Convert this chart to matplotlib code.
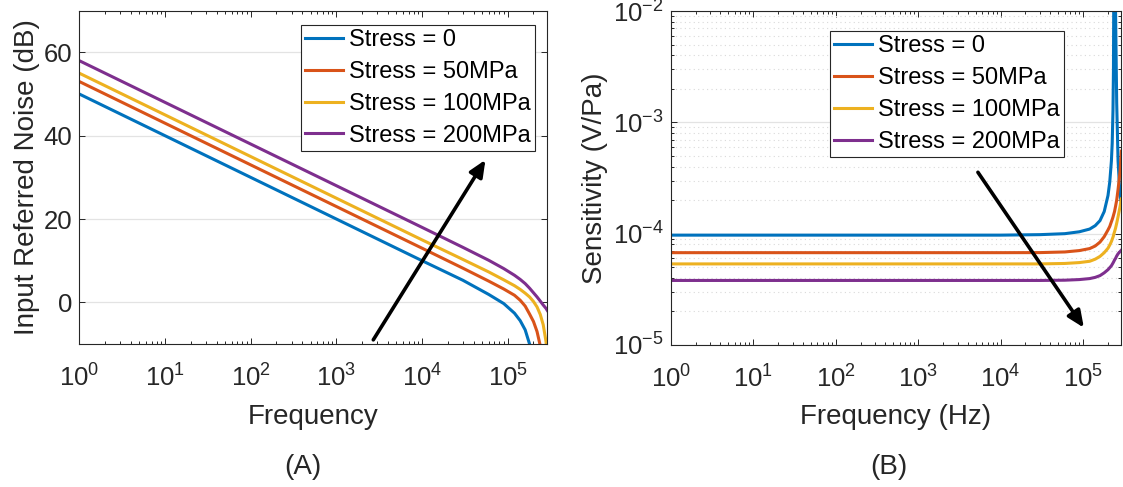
import numpy as np
import matplotlib
matplotlib.use('Agg')
import matplotlib.pyplot as plt
from matplotlib.ticker import LogLocator, NullFormatter, FixedLocator, NullLocator

plt.rcParams['font.family'] = ['Liberation Sans', 'DejaVu Sans']
plt.rcParams['mathtext.fontset'] = 'custom'
plt.rcParams['mathtext.rm'] = 'Liberation Sans'
plt.rcParams['mathtext.it'] = 'Liberation Sans:italic'
plt.rcParams['mathtext.bf'] = 'Liberation Sans:bold'

nan = np.nan

# ---------------- data ----------------
labels = ['Stress = 0', 'Stress = 50MPa', 'Stress = 100MPa', 'Stress = 200MPa']
colors = ['#0072BD', '#D95319', '#EDB120', '#7E2F8E']

# (A) input referred noise (dB)
freq_noise = [1, 10, 100, 1e3, 1e4, 3e4, 6e4, 9e4, 1.2e5, 1.4e5, 1.6e5,
              1.8e5, 2.0e5, 2.2e5, 2.4e5, 2.6e5, 2.8e5, 2.9e5]
noise_0 = [50, 40, 30, 20, 10, 5.3, 1.9, -0.3, -2.6, -4.4, -6.6,
           -10.0, -14.5, nan, nan, nan, nan, nan]
noise_50 = [53, 43, 33, 23, 13, 8.2, 5.1, 3.2, 1.7, 0.5, -0.9,
            -2.8, -4.6, -7.0, -10.4, -16.0, nan, nan]
noise_100 = [55, 45, 35, 25, 15, 10.3, 7.3, 5.4, 4.0, 3.1, 2.2,
             1.3, 0.2, -1.1, -2.9, -5.4, -9.4, -12.5]
noise_200 = [58, 48, 38, 28, 18, 13.2, 10.1, 8.1, 6.5, 5.5, 4.5,
             3.4, 2.3, 1.3, 0.3, -0.65, -1.45, -1.95]

# (B) sensitivity (V/Pa)
freq_sens = [1, 1e3, 1e4, 3e4, 6e4, 9e4, 1.2e5, 1.4e5, 1.6e5, 1.8e5, 2.0e5,
             2.1e5, 2.2e5, 2.25e5, 2.3e5, 2.33e5, 2.36e5, 2.4e5, 2.47e5,
             2.55e5, 2.65e5, 2.8e5, 2.9e5]
sens_0 = [9.7e-5, 9.7e-5, 9.7e-5, 9.8e-5, 1.0e-4, 1.04e-4, 1.1e-4, 1.18e-4,
          1.31e-4, 1.58e-4, 2.2e-4, 2.9e-4, 4.5e-4, 6.5e-4, 1.3e-3, 3e-3,
          3e-2, 3e-2, 1e-2, 1.5e-3, 4.5e-4, 2.2e-4, 1.9e-4]
sens_50 = [6.75e-5, 6.75e-5, 6.75e-5, 6.76e-5, 6.85e-5, 7.05e-5, 7.35e-5,
           7.75e-5, 8.4e-5, 9.4e-5, 1.08e-4, 1.16e-4, 1.28e-4, 1.34e-4,
           1.41e-4, 1.46e-4, 1.51e-4, 1.58e-4, 1.76e-4, 2.0e-4, 2.5e-4,
           3.6e-4, 5.5e-4]
sens_100 = [5.35e-5, 5.35e-5, 5.35e-5, 5.35e-5, 5.4e-5, 5.5e-5, 5.65e-5,
            5.9e-5, 6.25e-5, 6.75e-5, 7.4e-5, 7.9e-5, 8.5e-5, 8.9e-5,
            9.3e-5, 9.6e-5, 1.0e-4, 1.04e-4, 1.12e-4, 1.24e-4, 1.42e-4,
            1.75e-4, 2.05e-4]
sens_200 = [3.8e-5, 3.8e-5, 3.8e-5, 3.8e-5, 3.82e-5, 3.87e-5, 3.95e-5,
            4.05e-5, 4.2e-5, 4.45e-5, 4.75e-5, 4.95e-5, 5.15e-5, 5.3e-5,
            5.45e-5, 5.55e-5, 5.65e-5, 5.8e-5, 6.0e-5, 6.3e-5, 6.6e-5,
            6.9e-5, 7.1e-5]

# arrows (tail, head) in data coords
arrow_A = ((2700, -9.0), (5.5e4, 34.2))
arrow_B = ((5300, 3.56e-4), (1.02e5, 1.43e-5))

# ---------------- figure ----------------
W, H = 1123, 487
fig = plt.figure(figsize=(W / 100, H / 100), dpi=100)

def rect(x0, x1, y0, y1):
    return [x0 / W, 1 - y1 / H, (x1 - x0) / W, (y1 - y0) / H]

axA = fig.add_axes(rect(79.3, 547.3, 10.7, 344.0))
axB = fig.add_axes(rect(670.7, 1121.3, 11.0, 345.0))

ink = '#262626'
tick_fs = 18.5
lab_fs = 20
leg_fs = 17

def style(ax):
    ax.set_xscale('log')
    ax.set_xlim(1, 2.9e5)
    ax.xaxis.set_major_locator(LogLocator(base=10, numticks=10))
    ax.xaxis.set_minor_locator(LogLocator(base=10, subs=np.arange(2, 10), numticks=50))
    ax.xaxis.set_minor_formatter(NullFormatter())
    for sp in ax.spines.values():
        sp.set_color(ink)
        sp.set_linewidth(0.8)
    ax.tick_params(which='both', direction='in', top=True, right=True,
                   color=ink, labelcolor=ink, labelsize=tick_fs, width=0.7)
    ax.tick_params(which='major', length=4)
    ax.tick_params(which='minor', length=2.4)
    ax.tick_params(axis='x', which='major', pad=15)
    ax.tick_params(axis='y', which='major', pad=5)
    ax.set_axisbelow(True)

def add_legend(ax, loc, anchor):
    leg = ax.legend(loc=loc, bbox_to_anchor=anchor,
                    borderaxespad=0, fontsize=leg_fs, fancybox=False,
                    edgecolor=ink, framealpha=1, handlelength=1.6,
                    handletextpad=0.25, borderpad=0.18, labelspacing=0.42)
    leg.get_frame().set_linewidth(0.8)
    return leg

arrow_props = dict(arrowstyle='-|>,head_length=0.5,head_width=0.22',
                   lw=2.6, color='black', mutation_scale=20,
                   shrinkA=0, shrinkB=0)

# ----- panel A -----
style(axA)
for y, c, l in zip([noise_0, noise_50, noise_100, noise_200], colors, labels):
    axA.plot(freq_noise, y, color=c, lw=2.2, label=l)
axA.set_ylim(-10, 70)
axA.yaxis.set_major_locator(FixedLocator([0, 20, 40, 60]))
axA.yaxis.set_minor_locator(NullLocator())
axA.yaxis.grid(True, which='major', color='#e3e3e3', lw=0.9)
axA.set_xlabel('Frequency', fontsize=lab_fs, color=ink)
axA.set_ylabel('Input Referred Noise (dB)', fontsize=lab_fs, color=ink)
axA.xaxis.set_label_coords(0.5, -0.18)
axA.yaxis.set_label_coords(-0.083, 0.5)
axA.annotate('', xy=arrow_A[1], xytext=arrow_A[0], arrowprops=arrow_props)
add_legend(axA, 'upper right', (0.974, 0.958))

# ----- panel B -----
style(axB)
for y, c, l in zip([sens_0, sens_50, sens_100, sens_200], colors, labels):
    axB.plot(freq_sens, y, color=c, lw=2.2, label=l)
axB.set_yscale('log')
axB.set_ylim(1e-5, 1e-2)
axB.yaxis.set_major_locator(LogLocator(base=10, numticks=10))
axB.yaxis.set_minor_locator(LogLocator(base=10, subs=np.arange(2, 10), numticks=50))
axB.yaxis.set_minor_formatter(NullFormatter())
axB.yaxis.grid(True, which='major', color='#e3e3e3', lw=0.9)
axB.yaxis.grid(True, which='minor', color='#d9d9d9', lw=0.8, ls=(0, (1, 3)))
axB.set_xlabel('Frequency (Hz)', fontsize=lab_fs, color=ink)
axB.set_ylabel('Sensitivity (V/Pa)', fontsize=lab_fs, color=ink)
axB.xaxis.set_label_coords(0.5, -0.177)
axB.yaxis.set_label_coords(-0.139, 0.5)
axB.annotate('', xy=arrow_B[1], xytext=arrow_B[0], arrowprops=arrow_props)
add_legend(axB, 'upper left', (0.3535, 0.94))

fig.text(303 / W, 13 / H, '(A)', fontsize=lab_fs, color=ink, ha='center', va='baseline')
fig.text(889 / W, 13 / H, '(B)', fontsize=lab_fs, color=ink, ha='center', va='baseline')

fig.savefig('out.png', dpi=100)
